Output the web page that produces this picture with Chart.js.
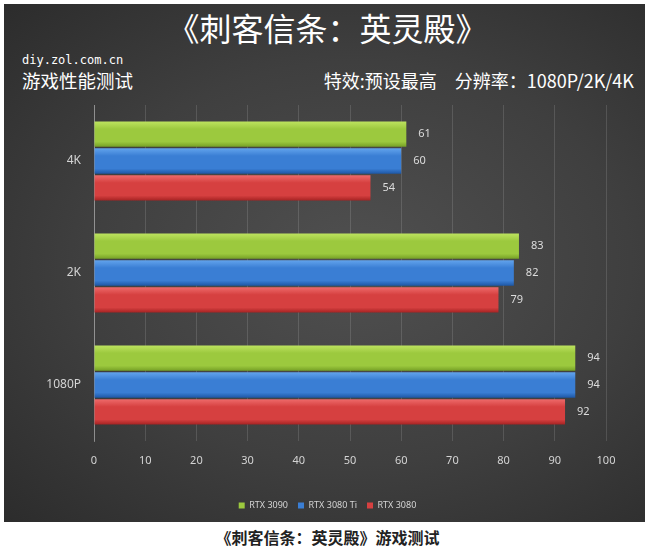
<!DOCTYPE html>
<html lang="zh-CN">
<head>
<meta charset="UTF-8">
<title>刺客信条：英灵殿 游戏测试</title>
<script src="https://cdn.jsdelivr.net/npm/chart.js"></script>
<style>
  body { margin: 0; background: #fff; font-family: "Noto Sans CJK SC", "Noto Sans", sans-serif; }
  #wrap { position: relative; width: 655px; height: 550px; overflow: hidden; }
  /* dunkler Hintergrund vom Diagramm */
  #panel {
    position: absolute; left: 4px; top: 4px; width: 641px; height: 518px;
    background: radial-gradient(ellipse at 55% 50%, #505050 0%, #3f3f3f 55%, #2c2c2c 100%);
  }
  #chartBox { position: absolute; left: 0; top: 0; width: 655px; height: 525px; }
  .txt { position: absolute; color: #fff; white-space: nowrap; }
  #title { left: 0; width: 655px; top: 5px; text-align: center; font-size: 32px; line-height: 44px; }
  #site { left: 22px; top: 53px; font-family: "DejaVu Sans Mono", monospace; font-size: 12px; }
  #sub { left: 22px; top: 67px; font-size: 18.5px; line-height: 26px; }
  #spec { right: 21px; top: 67px; font-size: 18px; line-height: 26px; }
  #caption { left: 0; width: 655px; top: 526px; text-align: center; font-size: 16px; font-weight: bold; color: #222; line-height: 22px; }
</style>
</head>
<body>
<div id="wrap">
  <div id="panel"></div>
  <div class="txt" id="title">《刺客信条：英灵殿》</div>
  <div class="txt" id="site">diy.zol.com.cn</div>
  <div class="txt" id="sub">游戏性能测试</div>
  <div class="txt" id="spec">特效:预设最高　分辨率：1080P/2K/4K</div>
  <div id="chartBox"><canvas id="chart"></canvas></div>
  <div class="txt" id="caption">《刺客信条：英灵殿》游戏测试</div>
</div>

<script>
  // Daten
  const categories = ['4K', '2K', '1080P'];
  const seriesNames = ['RTX 3090', 'RTX 3080 Ti', 'RTX 3080'];
  const rtx3090 = [61, 83, 94];
  const rtx3080ti = [60, 82, 94];
  const rtx3080 = [54, 79, 92];
  const xTicks = [0, 10, 20, 30, 40, 50, 60, 70, 80, 90, 100];

  // Farben: oben hell, Mitte, unten dunkel
  const colors = [
    ['#bde35f', '#9cc93e', '#76a026'],
    ['#62a3ec', '#3a7ed4', '#1e58a6'],
    ['#ee6a6a', '#d64040', '#a62323']
  ];

  // Balken mit Verlauf fuer den 3D-Look
  const barGradient = {
    id: 'barGradient',
    beforeDatasetsDraw(chart) {
      const c = chart.ctx;
      chart.data.datasets.forEach((ds, i) => {
        chart.getDatasetMeta(i).data.forEach(bar => {
          const h = bar.height;
          const g = c.createLinearGradient(0, bar.y - h / 2, 0, bar.y + h / 2);
          g.addColorStop(0, colors[i][0]);
          g.addColorStop(0.3, colors[i][1]);
          g.addColorStop(0.8, colors[i][1]);
          g.addColorStop(1, colors[i][2]);
          bar.options.backgroundColor = g;
        });
      });
    }
  };

  // Werte rechts neben den Balken
  const valueLabels = {
    id: 'valueLabels',
    afterDatasetsDraw(chart) {
      const c = chart.ctx;
      c.save();
      c.font = '11px "Noto Sans", sans-serif';
      c.fillStyle = '#dcdcdc';
      c.textBaseline = 'middle';
      chart.data.datasets.forEach((ds, i) => {
        chart.getDatasetMeta(i).data.forEach((bar, j) => {
          c.fillText(ds.data[j], bar.x + 12, bar.y);
        });
      });
      c.restore();
    }
  };

  const datasets = [rtx3090, rtx3080ti, rtx3080].map((d, i) => ({
    label: seriesNames[i],
    data: d,
    // scriptable, damit jeder Balken eigene Optionen bekommt
    backgroundColor: ctx => colors[ctx.datasetIndex][1],
    borderWidth: 0,
    categoryPercentage: 0.72,
    barPercentage: 0.94
  }));

  new Chart(document.getElementById('chart'), {
    type: 'bar',
    data: { labels: categories, datasets: datasets },
    options: {
      indexAxis: 'y',
      responsive: true,
      maintainAspectRatio: false,
      animation: false,
      layout: { padding: { top: 105, right: 0, left: 0, bottom: 5 } },
      scales: {
        x: {
          min: 0, max: 100,
          afterBuildTicks: s => { s.ticks = xTicks.map(v => ({ value: v })); },
          afterFit: s => { s.height = 50; },
          grid: { color: 'rgba(255,255,255,0.13)', drawTicks: false },
          border: { display: false },
          ticks: { color: '#d4d4d4', padding: 13, font: { size: 11, family: '"Noto Sans", sans-serif' } }
        },
        y: {
          afterFit: s => { s.width = 94; },
          grid: { display: false, drawTicks: false },
          border: { display: true, color: 'rgba(255,255,255,0.35)' },
          ticks: { color: '#d4d4d4', padding: 13, font: { size: 12, family: '"Noto Sans", sans-serif' } }
        },
        // leere Achse rechts als Platzhalter
        yRight: {
          type: 'linear', position: 'right',
          afterFit: s => { s.width = 49; },
          grid: { display: false, drawTicks: false },
          border: { display: false },
          ticks: { display: false }
        }
      },
      plugins: {
        legend: {
          position: 'bottom',
          labels: {
            color: '#d4d4d4',
            boxWidth: 6, boxHeight: 6,
            padding: 10,
            font: { size: 9, family: '"Noto Sans", sans-serif' },
            generateLabels: chart => chart.data.datasets.map((ds, i) => ({
              text: ds.label, fillStyle: colors[i][1], strokeStyle: colors[i][1],
              lineWidth: 0, datasetIndex: i, fontColor: '#d4d4d4'
            }))
          }
        },
        tooltip: { enabled: false }
      }
    },
    plugins: [barGradient, valueLabels]
  });
</script>
</body>
</html>
